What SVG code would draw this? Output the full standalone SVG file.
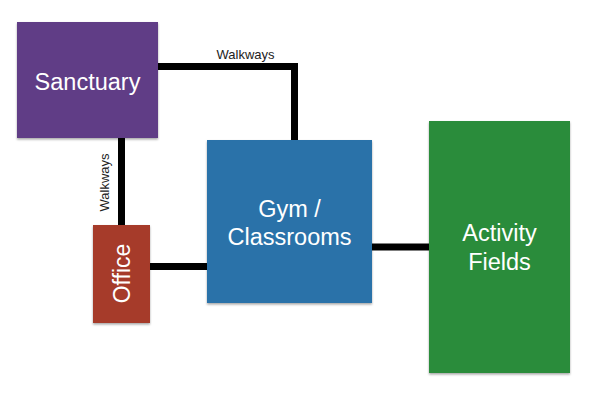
<svg xmlns="http://www.w3.org/2000/svg" width="596" height="404" viewBox="0 0 596 404">
<style>
.box{filter:url(#sh)}
.lbl{font-family:"Liberation Sans",Arial,sans-serif;fill:#fff;text-anchor:middle}
.wk{font-family:"Liberation Sans",Arial,sans-serif;fill:#222;font-size:13px;text-anchor:middle}
.con{fill:none;stroke:#000;stroke-width:7}
</style>
<defs>
<filter id="sh" x="-10%" y="-10%" width="120%" height="120%">
<feDropShadow dx="0" dy="1.5" stdDeviation="1.2" flood-color="#000" flood-opacity="0.35"/>
</filter>
</defs>
<rect width="596" height="404" fill="#fff"/>
<g id="connectors">
<polyline class="con" points="158,66.5 294.5,66.5 294.5,140"/>
<line class="con" x1="121.5" y1="138" x2="121.5" y2="225"/>
<line class="con" x1="150" y1="266.5" x2="207" y2="266.5"/>
<line class="con" x1="372" y1="247" x2="429" y2="247"/>
<text class="wk" x="245.5" y="59">Walkways</text>
<text class="wk" transform="translate(109,182.5) rotate(-90)">Walkways</text>
</g>
<g id="sanctuary">
<rect class="box" x="17" y="22" width="141" height="116" fill="#613c86"/>
<text class="lbl" x="87.5" y="90" font-size="23.5">Sanctuary</text>
</g>
<g id="gym">
<rect class="box" x="207" y="140" width="165" height="163" fill="#2a72a9"/>
<text class="lbl" x="289.5" y="217" font-size="23.5">Gym /</text>
<text class="lbl" x="289.5" y="245" font-size="23.5">Classrooms</text>
</g>
<g id="office">
<rect class="box" x="93" y="225" width="57" height="98" fill="#a63b2b"/>
<text class="lbl" transform="translate(130,273.5) rotate(-90)" font-size="23">Office</text>
</g>
<g id="fields">
<rect class="box" x="429" y="121" width="141" height="252" fill="#2a8c3b"/>
<text class="lbl" x="499.5" y="241" font-size="23.5">Activity</text>
<text class="lbl" x="499.5" y="270" font-size="23.5">Fields</text>
</g>
</svg>
